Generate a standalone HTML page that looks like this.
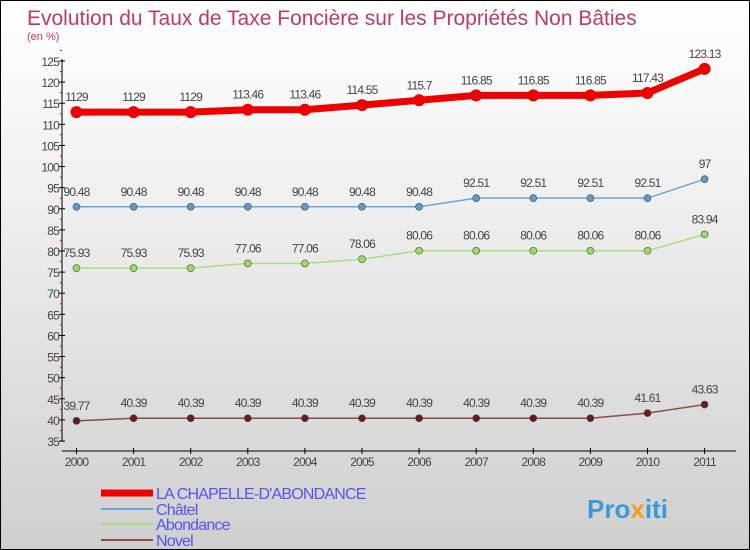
<!DOCTYPE html>
<html><head><meta charset="utf-8"><style>
body{margin:0}
#c{width:750px;height:550px;position:relative;box-sizing:border-box;border:1px solid #000;background:linear-gradient(#fff 0%,#f0f0f0 35%,#cfcfcf 100%);font-family:"Liberation Sans",sans-serif;overflow:hidden}
svg{position:absolute;left:0;top:0}
</style></head><body>
<div id="c">
<svg id="s" width="750" height="550">
<text x="26" y="24" font-size="21" fill="#c2386a">Evolution du Taux de Taxe Foncière sur les Propriétés Non Bâties</text>
<text x="26" y="39" font-size="11" fill="#c2386a">(en %)</text>
<text x="586" y="517" font-size="26" font-weight="bold" fill="#3a9ad9">Pro<tspan fill="#f0a020">x</tspan>iti</text>
</svg>
</div>
<script>
const years=["2000","2001","2002","2003","2004","2005","2006","2007","2008","2009","2010","2011"];
const chapelle=[112.9,112.9,112.9,113.46,113.46,114.55,115.7,116.85,116.85,116.85,117.43,123.13];
const chatel=[90.48,90.48,90.48,90.48,90.48,90.48,90.48,92.51,92.51,92.51,92.51,97];
const abondance=[75.93,75.93,75.93,77.06,77.06,78.06,80.06,80.06,80.06,80.06,80.06,83.94];
const novel=[39.77,40.39,40.39,40.39,40.39,40.39,40.39,40.39,40.39,40.39,41.61,43.63];
const yTicks=[35,40,45,50,55,60,65,70,75,80,85,90,95,100,105,110,115,120,125];
const names=["LA CHAPELLE-D'ABONDANCE","Châtel","Abondance","Novel"];
const s=document.getElementById('s');
const NS="http://www.w3.org/2000/svg";
const X=i=>75.5+i*57.1;
const Y=v=>440-(v-35)*(380/90);
function mk(t,a,txt){const e=document.createElementNS(NS,t);for(const k in a)e.setAttribute(k,a[k]);if(txt!==undefined)e.textContent=txt;s.appendChild(e);return e;}
let e=mk('line',{x1:61,y1:58,x2:61,y2:441,stroke:'#000','stroke-width':1});

e=mk('line',{x1:61,y1:450,x2:735,y2:450,stroke:'#000','stroke-width':1});

yTicks.forEach(v=>{
 e=mk('line',{x1:58,y1:Y(v),x2:64,y2:Y(v),stroke:'#000'});
 
 e=mk('line',{x1:59,y1:Y(v+2.5),x2:61,y2:Y(v+2.5),stroke:'#e00'});
 
 e=mk('text',{x:58,y:Y(v)+5,'font-size':12,fill:'#444','text-anchor':'end','letter-spacing':'-0.8'},v);
 
});
years.forEach((y,i)=>{
 e=mk('line',{x1:X(i),y1:447,x2:X(i),y2:453,stroke:'#000'});
 
 e=mk('text',{x:X(i),y:465,'font-size':12,fill:'#444','text-anchor':'middle','letter-spacing':'-0.8'},y);
 
});
const series=[[chapelle,'#e00',7,6,'chapelle'],[chatel,'#5b9bd0',1.5,3.5,'chatel'],[abondance,'#99dd66',1.5,3.5,'abondance'],[novel,'#6a1a1a',1.5,3.5,'novel']];
series.forEach(([d,c,w,r,n])=>{
 e=mk('polyline',{points:d.map((v,i)=>X(i)+','+Y(v)).join(' '),fill:'none',stroke:c==='#6a1a1a'?'#8a4a4a':c==='#5b9bd0'?'#6aa6d8':c==='#99dd66'?'#a8e080':c,'stroke-width':w});
 
 d.forEach((v,i)=>{
  e=mk('circle',{cx:X(i),cy:Y(v),r:r,fill:c,stroke:c==='#e00'?'none':'#444','stroke-width':0.6});
  
  e=mk('text',{x:X(i),y:Y(v)-11,'font-size':12,fill:'#444','text-anchor':'middle','letter-spacing':'-0.8'},String(v).replace('.',c==='#e00'&&v===112.9?'':'.'));
  
 });
});
const lc=['#e00','#6aa6d8','#a8e080','#8a4a4a'],lw=[7,2,2,2],ly=[492,508,523,539];
names.forEach((n,i)=>{
 e=mk('line',{x1:100,y1:ly[i],x2:152,y2:ly[i],stroke:lc[i],'stroke-width':lw[i]});
 
 e=mk('text',{x:155,y:ly[i]+6,'font-size':16,fill:'#5555ee','letter-spacing':'-0.8'},n);
 
});
</script>
</body></html>
